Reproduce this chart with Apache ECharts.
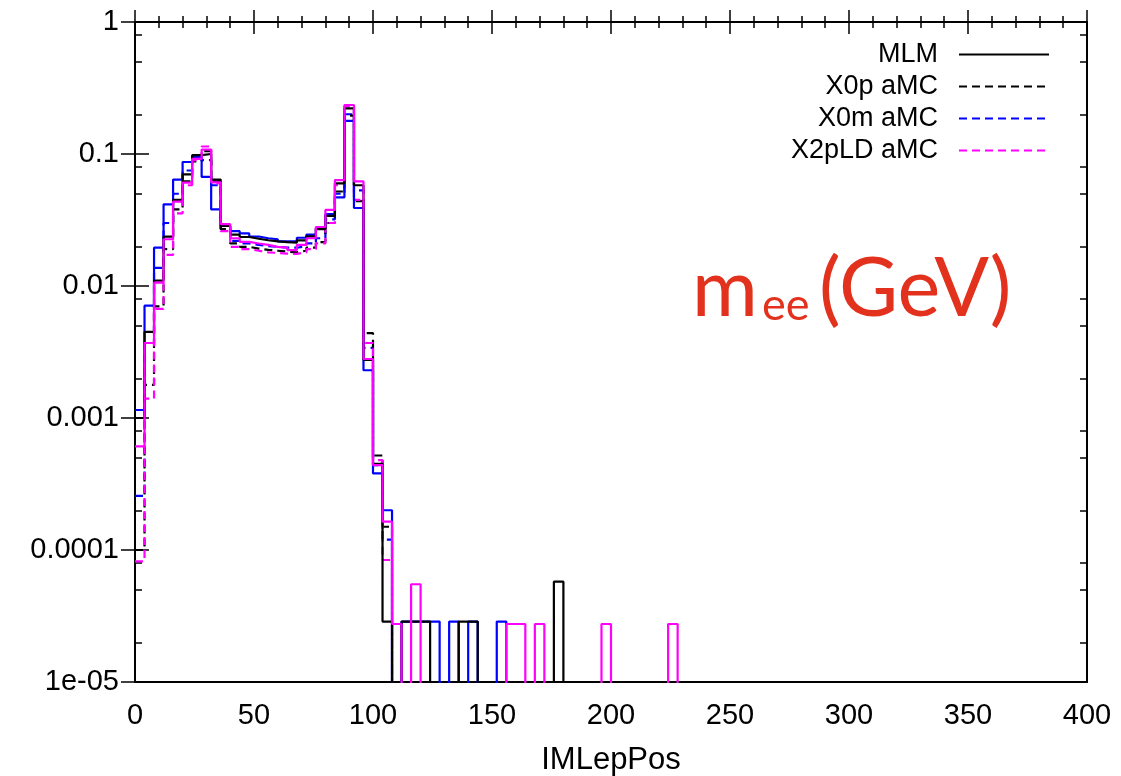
<!DOCTYPE html>
<html><head><meta charset="utf-8">
<script src="https://cdn.jsdelivr.net/npm/echarts@6/dist/echarts.min.js"></script>
<style>html,body{margin:0;padding:0;background:#fff}#c{width:1121px;height:776px}</style>
</head><body><div id="c"></div>
<script>
// ---- data (bin k spans [4k, 4k+4] GeV; 0 = empty bin) ----
const binWidth = 4;
const xMin = 0, xMax = 400, xInterval = 50;
const yTickLabels = ['1e-05', '0.0001', '0.001', '0.01', '0.1', '1'];
const yMinorMultipliers = [2, 5, 8];
const legendNames = ['MLM', 'X0p aMC', 'X0m aMC', 'X2pLD aMC'];

const mlm = [1.0e-3, 4.5e-3, 0.011, 0.0237, 0.045, 0.070, 0.098, 0.100, 0.064, 0.0285,
  0.0245, 0.0235, 0.0228, 0.0222, 0.0218, 0.0215, 0.0213, 0.0222, 0.0238, 0.027,
  0.034, 0.060, 0.222, 0.058, 2.75e-3, 4.5e-4, 2.87e-5, 0, 2.87e-5, 2.87e-5,
  2.87e-5, 0, 0, 0, 2.87e-5, 2.87e-5, 0, 0, 0, 0,
  0, 0, 0, 0, 5.75e-5, 0];
const x0pAMC = [1.0e-4, 1.78e-3, 7.0e-3, 0.019, 0.038, 0.062, 0.088, 0.105, 0.062, 0.027,
  0.021, 0.0198, 0.0192, 0.0188, 0.0185, 0.0182, 0.018, 0.0185, 0.0195, 0.0215,
  0.030, 0.052, 0.195, 0.044, 4.4e-3, 5.2e-4, 1.5e-4, 0];
const x0mAMC = [2.57e-4, 3.7e-3, 0.0137, 0.030, 0.050, 0.075, 0.095, 0.090, 0.058, 0.027,
  0.022, 0.021, 0.0205, 0.020, 0.0198, 0.0195, 0.0195, 0.020, 0.021, 0.023,
  0.032, 0.050, 0.200, 0.053, 3.4e-3, 4.4e-4, 1.2e-4, 0];
const x2pldAMC = [8.2e-5, 1.4e-3, 6.7e-3, 0.0172, 0.0355, 0.058, 0.090, 0.114, 0.060, 0.026,
  0.0198, 0.019, 0.0185, 0.018, 0.0178, 0.0176, 0.0175, 0.018, 0.019, 0.021,
  0.030, 0.058, 0.230, 0.045, 3.7e-3, 4.8e-4, 8.4e-5, 0];
const x0mSolid = [1.15e-3, 7.1e-3, 0.0195, 0.0416, 0.064, 0.087, 0.095, 0.067, 0.038, 0.0285,
  0.026, 0.025, 0.0237, 0.023, 0.0226, 0.0218, 0.0218, 0.0232, 0.0245, 0.0274,
  0.035, 0.047, 0.178, 0.039, 2.3e-3, 3.8e-4, 2.0e-4, 0, 2.87e-5, 2.87e-5,
  2.87e-5, 2.87e-5, 0, 2.87e-5, 0, 2.87e-5, 0, 0, 2.87e-5, 0];
const x2pldSolid = [6.1e-4, 3.7e-3, 0.0106, 0.0226, 0.0436, 0.0607, 0.092, 0.108, 0.061, 0.0294,
  0.023, 0.0216, 0.021, 0.0205, 0.0198, 0.0195, 0.0187, 0.0205, 0.023, 0.028,
  0.0377, 0.0635, 0.235, 0.062, 2.8e-3, 4.4e-4, 1.64e-4, 2.75e-5, 0, 5.5e-5,
  0, 0, 0, 0, 0, 0, 0, 0, 0, 2.75e-5,
  2.75e-5, 0, 2.75e-5, 0, 0, 0, 0, 0, 0, 2.75e-5,
  0, 0, 0, 0, 0, 0, 2.75e-5, 0];

// ---- build ----
const EMPTY = 1e-9; // empty bins fall below the axis and are clipped
function stepData(vals) {
  const pts = vals.map((v, i) => [i * binWidth, v > 0 ? v : EMPTY]);
  pts.push([vals.length * binWidth, EMPTY]);
  return pts;
}
const minorVals = [];
for (let d = -5; d < 0; d++) yMinorMultipliers.forEach(m => minorVals.push(d + Math.log10(m)));

const FONT = 'Liberation Sans';
const dash = [8, 5];
function ser(name, vals, color, dashed) {
  return {
    name: name, type: 'line', step: 'end', symbol: 'none', showSymbol: false, clip: true,
    data: stepData(vals), animation: false,
    lineStyle: { color: color, width: 2.2, type: dashed ? dash : 'solid' },
    itemStyle: { color: color }
  };
}
const tickStyle = { color: '#000', width: 1.5 };
const chart = echarts.init(document.getElementById('c'), null, { renderer: 'canvas' });
chart.setOption({
  animation: false,
  backgroundColor: '#fff',
  grid: { left: 135, right: 34, top: 22, bottom: 94, show: true, borderColor: '#000', borderWidth: 2,
    containLabel: false, outerBoundsMode: 'none' },
  legend: {
    data: legendNames, orient: 'vertical', right: 66, top: 36, align: 'right',
    itemWidth: 90, itemHeight: 20, itemGap: 5,
    itemStyle: { opacity: 0, borderWidth: 0 },
    textStyle: { fontFamily: FONT, fontSize: 27, color: '#000', padding: [0, 16, 0, 0] }
  },
  xAxis: [{
    type: 'value', min: xMin, max: xMax, interval: xInterval, position: 'bottom',
    name: 'IMLepPos', nameLocation: 'middle', nameGap: 63,
    nameTextStyle: { fontFamily: FONT, fontSize: 31, color: '#000' },
    axisLine: { lineStyle: { color: '#000', width: 2 } },
    axisTick: { inside: true, length: 12, lineStyle: tickStyle },
    minorTick: { show: true, splitNumber: 5, length: 6, lineStyle: tickStyle },
    axisLabel: { fontFamily: FONT, fontSize: 29, color: '#000', margin: 19 },
    splitLine: { show: false }
  }, {
    type: 'value', min: xMin, max: xMax, interval: xInterval, position: 'top',
    axisLine: { lineStyle: { color: '#000', width: 2 } },
    axisTick: { inside: true, length: 12, lineStyle: tickStyle },
    minorTick: { show: true, splitNumber: 5, length: 6, lineStyle: tickStyle },
    axisLabel: { show: false }, splitLine: { show: false }
  }],
  yAxis: [{
    type: 'log', logBase: 10, min: 1e-5, max: 1, position: 'left',
    axisLine: { lineStyle: { color: '#000', width: 2 } },
    axisTick: { inside: true, length: 14, lineStyle: tickStyle },
    axisLabel: { fontFamily: FONT, fontSize: 29, color: '#000', margin: 16,
      formatter: v => yTickLabels[Math.round(Math.log10(v)) + 5] },
    splitLine: { show: false }
  }, {
    type: 'log', logBase: 10, min: 1e-5, max: 1, position: 'right',
    axisLine: { lineStyle: { color: '#000', width: 2 } },
    axisTick: { inside: true, length: 14, lineStyle: tickStyle },
    axisLabel: { show: false }, splitLine: { show: false }
  }, {
    type: 'value', min: -5, max: 0, position: 'left',
    axisLine: { show: false },
    axisTick: { inside: true, length: 7, lineStyle: tickStyle, customValues: minorVals },
    axisLabel: { show: false }, splitLine: { show: false }
  }, {
    type: 'value', min: -5, max: 0, position: 'right',
    axisLine: { show: false },
    axisTick: { inside: true, length: 7, lineStyle: tickStyle, customValues: minorVals },
    axisLabel: { show: false }, splitLine: { show: false }
  }],
  graphic: [
    { type: 'text', x: 692, y: 290, style: { text: 'm', font: '80px Lato', fill: '#e2321e', verticalAlign: 'middle' } },
    { type: 'text', x: 762, y: 305, style: { text: 'ee', font: '45px Lato', fill: '#e2321e', verticalAlign: 'middle' } },
    { type: 'text', x: 819, y: 290, style: { text: '(GeV)', font: '81px Lato', fill: '#e2321e', verticalAlign: 'middle' } }
  ],
  series: [
    ser('X0m aMC', x0mAMC, '#0000ff', true),
    ser('X0p aMC', x0pAMC, '#000000', true),
    ser('X2pLD aMC', x2pldAMC, '#ff00ff', true),
    ser('X0m', x0mSolid, '#0000ff', false),
    ser('MLM', mlm, '#000000', false),
    ser('X2pLD', x2pldSolid, '#ff00ff', false)
  ]
});
</script></body></html>
